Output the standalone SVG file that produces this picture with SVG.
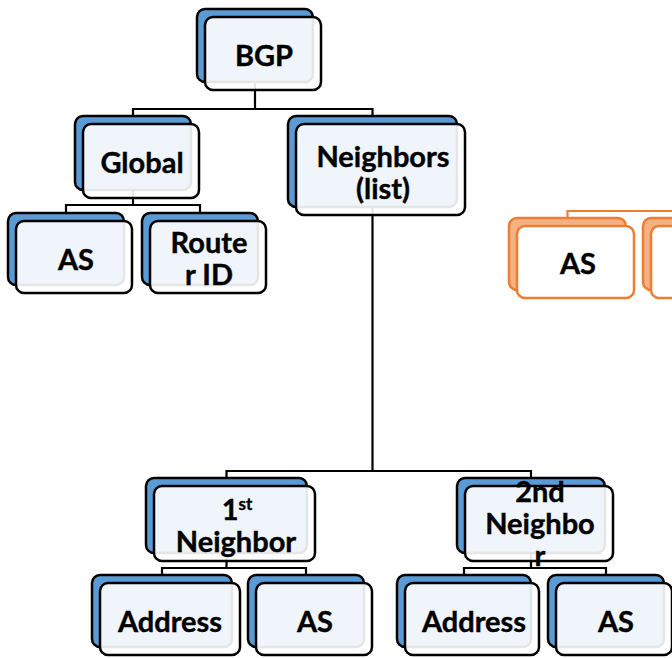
<svg xmlns="http://www.w3.org/2000/svg" width="672" height="658" viewBox="0 0 672 658">
<style>
.sh{fill:#5B9BD5;stroke:#000;stroke-width:2.5}
.fr{fill:#fff;fill-opacity:0.9;stroke:#000;stroke-width:2.5}
.osh{fill:#F4B183;stroke:#ED7D31;stroke-width:2.5}
.ofr{fill:#fff;stroke:#ED7D31;stroke-width:2.5}
.t{font-family:Lato,"Liberation Sans",sans-serif;font-weight:bold;font-size:29px;fill:#000;text-anchor:middle;stroke:#000;stroke-width:0.4}
.sup{font-size:17px}
.c{fill:none;stroke:#000;stroke-width:2.2}
.oc{fill:none;stroke:#ED7D31;stroke-width:2.2}
</style>
<rect width="672" height="658" fill="#fff"/>
<g id="connectors">
<path class="c" d="M255,82V109M133,116V109H372.5V116"/>
<path class="c" d="M133,190V205M66,213V205H200V213"/>
<path class="c" d="M372.5,207V471M226.5,478V471H531V478"/>
<path class="c" d="M226.5,553V568M162,575V568H306V575"/>
<path class="c" d="M531,553V568M464,575V568H606V575"/>
<path class="oc" d="M567.5,218V211H701.5V218"/>
</g>
<g id="bgp">
<rect class="sh" x="197" y="9" width="116" height="73" rx="8"/>
<rect class="fr" x="205" y="17" width="116" height="73" rx="8"/>
<text class="t" x="264" y="66">BGP</text>
</g>
<g id="global">
<rect class="sh" x="75" y="116" width="116" height="74" rx="8"/>
<rect class="fr" x="83" y="124" width="116" height="74" rx="8"/>
<text class="t" x="142" y="173">Global</text>
</g>
<g id="neighbors">
<rect class="sh" x="288" y="116" width="169" height="91" rx="8"/>
<rect class="fr" x="296" y="124" width="169" height="91" rx="8"/>
<text class="t" x="383" y="167">Neighbors</text>
<text class="t" x="383" y="199">(list)</text>
</g>
<g id="global-as">
<rect class="sh" x="8" y="213" width="116" height="72" rx="8"/>
<rect class="fr" x="16" y="221" width="116" height="72" rx="8"/>
<text class="t" x="76" y="270">AS</text>
</g>
<g id="router-id">
<rect class="sh" x="142" y="213" width="116" height="72" rx="8"/>
<rect class="fr" x="150" y="221" width="116" height="72" rx="8"/>
<text class="t" x="209" y="253">Route</text>
<text class="t" x="209" y="285">r ID</text>
</g>
<g id="orange-as">
<rect class="osh" x="509" y="218" width="117" height="72" rx="8"/>
<rect class="ofr" x="517" y="226" width="117" height="72" rx="8"/>
<text class="t" x="578" y="274">AS</text>
</g>
<g id="orange-2">
<rect class="osh" x="643" y="218" width="117" height="72" rx="8"/>
<rect class="ofr" x="651" y="226" width="117" height="72" rx="8"/>
</g>
<g id="neighbor-1">
<rect class="sh" x="146" y="478" width="161" height="75" rx="8"/>
<rect class="fr" x="154" y="486" width="161" height="75" rx="8"/>
<text class="t" x="237" y="520">1<tspan class="sup" dy="-10">st</tspan></text>
<text class="t" x="236" y="552">Neighbor</text>
</g>
<g id="neighbor-2">
<rect class="sh" x="457" y="478" width="148" height="75" rx="8"/>
<rect class="fr" x="465" y="486" width="148" height="75" rx="8"/>
<text class="t" x="540" y="502">2nd</text>
<text class="t" x="540" y="534">Neighbo</text>
<text class="t" x="540" y="566">r</text>
</g>
<g id="n1-address">
<rect class="sh" x="92" y="575" width="140" height="72" rx="8"/>
<rect class="fr" x="100" y="583" width="140" height="72" rx="8"/>
<text class="t" x="170" y="632">Address</text>
</g>
<g id="n1-as">
<rect class="sh" x="248" y="575" width="116" height="72" rx="8"/>
<rect class="fr" x="256" y="583" width="116" height="72" rx="8"/>
<text class="t" x="315" y="632">AS</text>
</g>
<g id="n2-address">
<rect class="sh" x="397" y="575" width="134" height="72" rx="8"/>
<rect class="fr" x="405" y="583" width="134" height="72" rx="8"/>
<text class="t" x="474" y="632">Address</text>
</g>
<g id="n2-as">
<rect class="sh" x="548" y="575" width="116" height="72" rx="8"/>
<rect class="fr" x="556" y="583" width="116" height="72" rx="8"/>
<text class="t" x="616" y="632">AS</text>
</g>
</svg>
